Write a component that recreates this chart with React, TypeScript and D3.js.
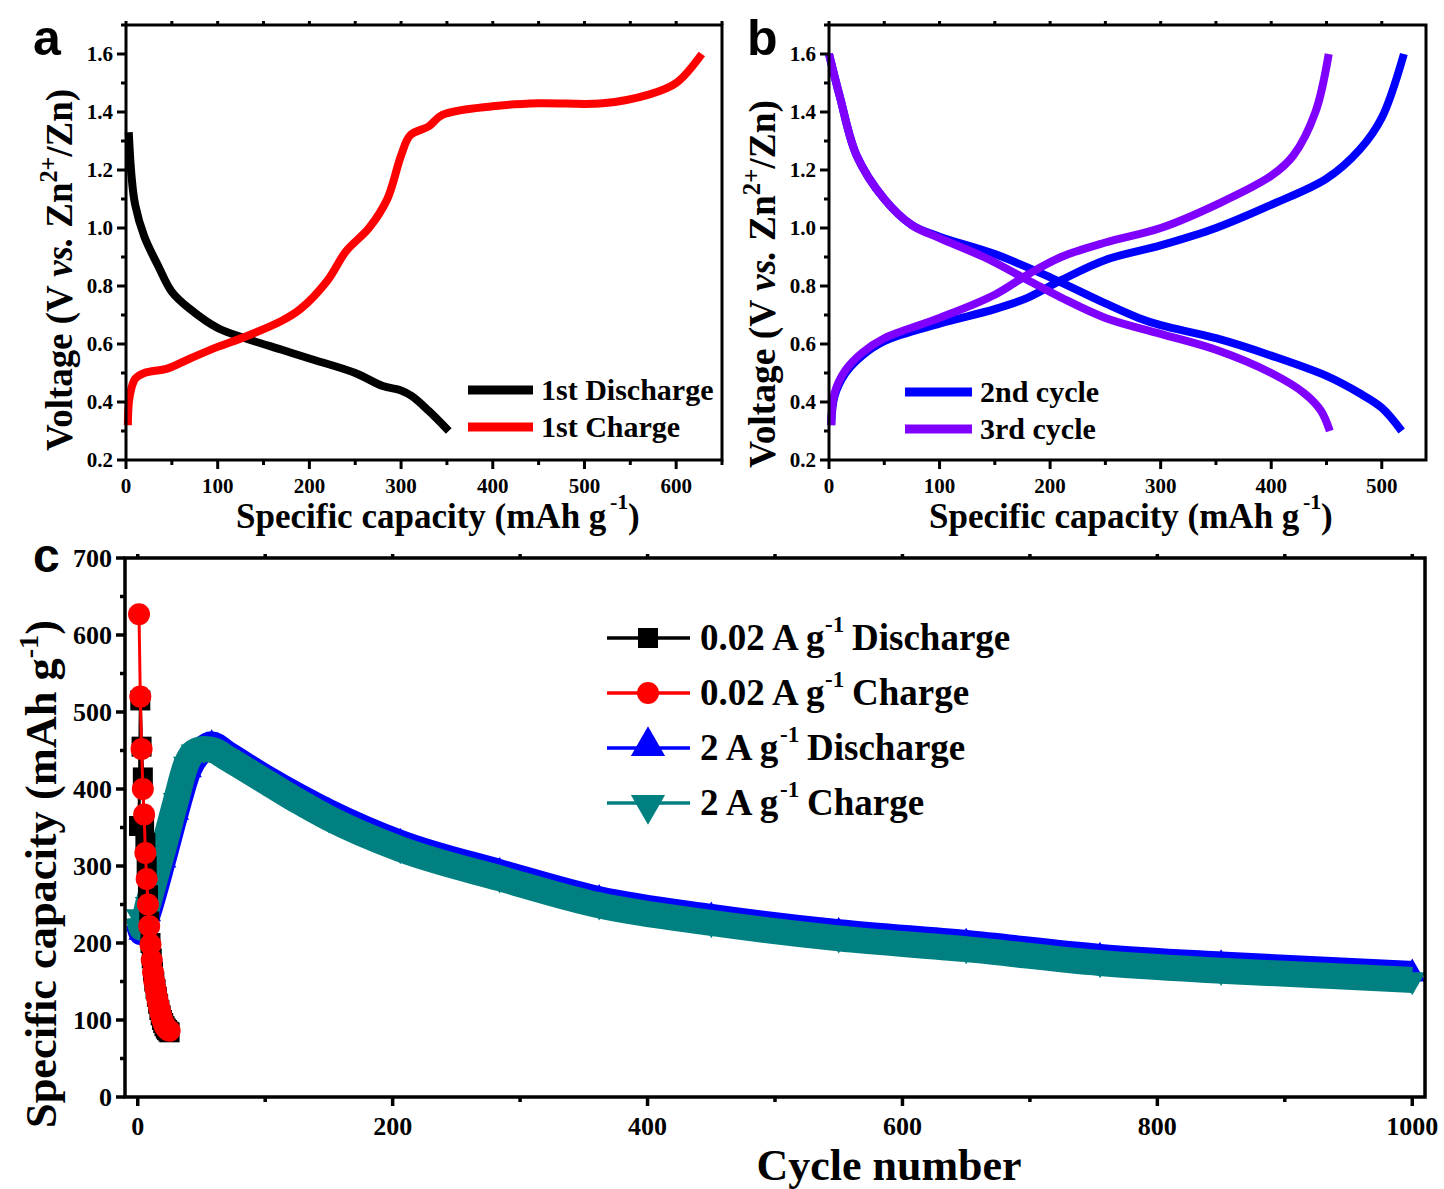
import React from "react";
import * as d3 from "d3";

// ---- panel a: first cycle ----
const aDisCap = [3, 6, 10, 20, 35, 50, 70, 100, 130, 170, 200, 250, 280, 300, 312, 330, 352];
const aDisV = [1.33, 1.18, 1.08, 0.97, 0.87, 0.78, 0.72, 0.655, 0.62, 0.58, 0.55, 0.5, 0.455, 0.44, 0.42, 0.37, 0.3];
const aChCap = [2, 4, 10, 20, 45, 70, 100, 130, 170, 190, 220, 240, 265, 285, 300, 310, 330, 345, 400, 450, 520, 570, 600, 628];
const aChV = [0.32, 0.42, 0.48, 0.5, 0.515, 0.55, 0.59, 0.625, 0.68, 0.72, 0.82, 0.92, 1.0, 1.1, 1.25, 1.32, 1.35, 1.39, 1.42, 1.43, 1.43, 1.46, 1.5, 1.6];

// ---- panel b: 2nd / 3rd cycle ----
const b2DisCap = [0, 10, 25, 50, 75, 100, 150, 200, 250, 280, 300, 350, 400, 450, 480, 500, 518];
const b2DisV = [1.6, 1.45, 1.25, 1.1, 1.01, 0.97, 0.91, 0.83, 0.74, 0.69, 0.665, 0.62, 0.56, 0.49, 0.43, 0.38, 0.3];
const b2ChCap = [2, 5, 15, 30, 50, 100, 150, 180, 210, 250, 300, 350, 400, 450, 480, 500, 520];
const b2ChV = [0.32, 0.42, 0.5, 0.56, 0.61, 0.67, 0.72, 0.76, 0.82, 0.89, 0.94, 1.0, 1.08, 1.17, 1.27, 1.38, 1.6];
const b3DisCap = [0, 10, 25, 50, 75, 100, 140, 180, 210, 250, 300, 350, 400, 430, 445, 453];
const b3DisV = [1.6, 1.45, 1.25, 1.1, 1.01, 0.965, 0.9, 0.82, 0.76, 0.69, 0.635, 0.58, 0.5, 0.43, 0.37, 0.3];
const b3ChCap = [2, 5, 15, 30, 50, 100, 150, 180, 210, 250, 300, 350, 400, 420, 440, 452];
const b3ChV = [0.32, 0.43, 0.51, 0.57, 0.62, 0.69, 0.77, 0.84, 0.9, 0.95, 1.0, 1.08, 1.18, 1.25, 1.4, 1.6];

// ---- panel c: cycling ----
const lowCycles = d3.range(1, 26);
const lowDis = [352, 515, 455, 415, 352, 330, 300, 262, 228, 200, 180, 163, 150, 140, 130, 121, 113, 106, 100, 96, 92, 89, 87, 85, 84];
const lowCh = [627, 520, 452, 400, 367, 317, 283, 250, 222, 198, 178, 162, 150, 140, 130, 122, 115, 108, 102, 97, 93, 90, 88, 87, 86];

const hiDisCycles = [1, 3, 8, 20, 30, 40, 50, 58, 70, 100, 150, 206, 284, 362, 450, 550, 650, 755, 850, 1000];
const hiDis = [225, 214, 238, 308, 370, 425, 450, 458, 446, 415, 370, 330, 292, 257, 234, 214, 200, 182, 172, 160];
const hiChCycles = [1, 3, 8, 20, 30, 38, 44, 52, 60, 70, 100, 127, 150, 206, 284, 362, 450, 550, 650, 755, 850, 1000];
const hiCh = [234, 220, 250, 322, 385, 432, 448, 452, 450, 440, 410, 383, 362, 322, 284, 249, 226, 206, 192, 174, 164, 152];

const serif = "Liberation Serif";
const sans = "Liberation Sans";

type Pt = [number, number];
const zip = (xs: number[], ys: number[]): Pt[] => xs.map((x, i) => [x, ys[i]]);

function Frame({ x, y, xTicks, xMinor, yTicks, yMinor, fmtY, fs, sw }: any) {
  const [x0, x1] = x.range();
  const [y0, y1] = y.range();
  return (
    <g fontFamily={serif} fontWeight="bold" fontSize={fs}>
      {xMinor.map((t: number) => (
        <g key={"xm" + t}>
          <line x1={x(t)} x2={x(t)} y1={y0} y2={y0 + 5} stroke="#000" strokeWidth={sw} />
          <line x1={x(t)} x2={x(t)} y1={y1} y2={y1 - 4} stroke="#000" strokeWidth={sw} />
        </g>
      ))}
      {xTicks.map((t: number) => (
        <g key={"x" + t}>
          <line x1={x(t)} x2={x(t)} y1={y0} y2={y0 + 9} stroke="#000" strokeWidth={sw} />
          <line x1={x(t)} x2={x(t)} y1={y1} y2={y1 - 4} stroke="#000" strokeWidth={sw} />
          <text x={x(t)} y={y0 + fs + 12} textAnchor="middle">{t}</text>
        </g>
      ))}
      {yMinor.map((t: number) => (
        <line key={"ym" + t} x1={x0} x2={x0 - 5} y1={y(t)} y2={y(t)} stroke="#000" strokeWidth={sw} />
      ))}
      {yTicks.map((t: number) => (
        <g key={"y" + t}>
          <line x1={x0} x2={x0 - 9} y1={y(t)} y2={y(t)} stroke="#000" strokeWidth={sw} />
          <text x={x0 - 13} y={y(t) + fs * 0.34} textAnchor="end">{fmtY(t)}</text>
        </g>
      ))}
      <rect x={x0} y={y1} width={x1 - x0} height={y0 - y1} fill="none" stroke="#000" strokeWidth={sw} />
    </g>
  );
}

const VoltTitle = ({ cx, cy, len }: { cx: number; cy: number; len: number }) => (
  <text transform={`translate(${cx},${cy}) rotate(-90)`} textAnchor="middle" fontFamily={serif}
    fontWeight="bold" fontSize={38} textLength={len} lengthAdjust="spacingAndGlyphs">
    <tspan>Voltage (V </tspan>
    <tspan fontStyle="italic">vs.</tspan>
    <tspan> Zn</tspan>
    <tspan dy={-15} fontSize={25}>2+</tspan>
    <tspan dy={15}>/Zn)</tspan>
  </text>
);

// x title split into pieces so the superscript sits clear of the main run
const CapTitle = ({ x0, y }: { x0: number; y: number }) => (
  <g fontFamily={serif} fontWeight="bold">
    <text x={x0} y={y} fontSize={35}>Specific capacity (mAh g</text>
    <text x={x0 + 374} y={y - 19} fontSize={22}>-1</text>
    <text x={x0 + 392} y={y} fontSize={35}>)</text>
  </g>
);

export default function App() {
  const vTicks = [0.2, 0.4, 0.6, 0.8, 1.0, 1.2, 1.4, 1.6];
  const vMinor = [0.3, 0.5, 0.7, 0.9, 1.1, 1.3, 1.5, 1.7];
  const fmtV = (v: number) => v.toFixed(1);

  // panel a
  const xa = d3.scaleLinear().domain([0, 650]).range([126, 722]);
  const ya = d3.scaleLinear().domain([0.2, 1.7]).range([460, 25]);
  const la = d3.line<Pt>().x((d) => xa(d[0])).y((d) => ya(d[1])).curve(d3.curveCatmullRom);

  // panel b
  const xb = d3.scaleLinear().domain([0, 540]).range([829, 1426]);
  const yb = ya;
  const lb = d3.line<Pt>().x((d) => xb(d[0])).y((d) => yb(d[1])).curve(d3.curveCatmullRom);

  // panel c
  const xc = d3.scaleLinear().domain([-10, 1010]).range([125, 1425]);
  const yc = d3.scaleLinear().domain([0, 700]).range([1097, 558]);
  const lc = d3.line<Pt>().x((d) => xc(d[0])).y((d) => yc(d[1]));
  const band = d3.line<Pt>().x((d) => xc(d[0])).y((d) => yc(d[1])).curve(d3.curveMonotoneX);
  const triUp = d3.symbol().type(d3.symbolTriangle).size(300)() as string;

  const legA = [
    { name: "1st Discharge", color: "#000" },
    { name: "1st Charge", color: "#ff0000" },
  ];
  const legB = [
    { name: "2nd cycle", color: "#0000ff" },
    { name: "3rd cycle", color: "#8000ff" },
  ];
  const legC = [
    { pre: "0.02 A g", post: "Discharge", color: "#000", m: "sq" },
    { pre: "0.02 A g", post: "Charge", color: "#ff0000", m: "ci" },
    { pre: "2 A g", post: "Discharge", color: "#0000ff", m: "up" },
    { pre: "2 A g", post: "Charge", color: "#008080", m: "dn" },
  ];

  const marker = (m: string, color: string, cx: number, cy: number, key: any, s = 1) => {
    if (m === "sq") return <rect key={key} x={cx - 10 * s} y={cy - 10 * s} width={20 * s} height={20 * s} fill={color} />;
    if (m === "ci") return <circle key={key} cx={cx} cy={cy} r={11 * s} fill={color} />;
    return (
      <path key={key} d={triUp} fill={color}
        transform={`translate(${cx},${cy}) scale(${s},${m === "dn" ? -s : s})`} />
    );
  };

  return (
    <svg width={1444} height={1189} style={{ position: "absolute", left: 0, top: 0, background: "#fff" }}>
      {/* ---------- a ---------- */}
      <text x={33} y={55} fontFamily={sans} fontWeight="bold" fontSize={50}>a</text>
      <path d={la(zip(aDisCap, aDisV)) as string} fill="none" stroke="#000" strokeWidth={8} />
      <path d={la(zip(aChCap, aChV)) as string} fill="none" stroke="#ff0000" strokeWidth={8} />
      <Frame x={xa} y={ya} xTicks={d3.range(0, 601, 100)} xMinor={d3.range(50, 651, 100)}
        yTicks={vTicks} yMinor={vMinor} fmtY={fmtV} fs={21} sw={3} />
      {legA.map((d, i) => (
        <g key={d.name}>
          <line x1={468} x2={533} y1={390 + i * 37} y2={390 + i * 37} stroke={d.color} strokeWidth={9} />
          <text x={541} y={400 + i * 37} fontFamily={serif} fontWeight="bold" fontSize={30}>{d.name}</text>
        </g>
      ))}
      <VoltTitle cx={72} cy={270} len={362} />
      <CapTitle x0={236} y={528} />

      {/* ---------- b ---------- */}
      <text x={747} y={55} fontFamily={sans} fontWeight="bold" fontSize={50}>b</text>
      <path d={lb(zip(b2DisCap, b2DisV)) as string} fill="none" stroke="#0000ff" strokeWidth={8} />
      <path d={lb(zip(b2ChCap, b2ChV)) as string} fill="none" stroke="#0000ff" strokeWidth={8} />
      <path d={lb(zip(b3DisCap, b3DisV)) as string} fill="none" stroke="#8000ff" strokeWidth={8} />
      <path d={lb(zip(b3ChCap, b3ChV)) as string} fill="none" stroke="#8000ff" strokeWidth={8} />
      <Frame x={xb} y={yb} xTicks={d3.range(0, 501, 100)} xMinor={d3.range(50, 540, 100)}
        yTicks={vTicks} yMinor={vMinor} fmtY={fmtV} fs={21} sw={3} />
      {legB.map((d, i) => (
        <g key={d.name}>
          <line x1={905} x2={972} y1={392 + i * 37} y2={392 + i * 37} stroke={d.color} strokeWidth={9} />
          <text x={980} y={402 + i * 37} fontFamily={serif} fontWeight="bold" fontSize={30}>{d.name}</text>
        </g>
      ))}
      <VoltTitle cx={775} cy={284} len={368} />
      <CapTitle x0={929} y={528} />

      {/* ---------- c ---------- */}
      <text x={33} y={572} fontFamily={sans} fontWeight="bold" fontSize={48}>c</text>
      {/* 2 A g-1 bands */}
      <path d={band(zip(hiDisCycles, hiDis)) as string} fill="none" stroke="#0000ff" strokeWidth={26} strokeLinejoin="round" />
      {hiDisCycles.map((c, i) => marker("up", "#0000ff", xc(c), yc(hiDis[i]), "bu" + i))}
      <path d={band(zip(hiChCycles, hiCh)) as string} fill="none" stroke="#008080" strokeWidth={26} strokeLinejoin="round" />
      {hiChCycles.map((c, i) => marker("dn", "#008080", xc(c), yc(hiCh[i]), "td" + i))}
      {/* 0.02 A g-1 */}
      <path d={lc(zip(lowCycles, lowDis)) as string} fill="none" stroke="#000" strokeWidth={3} />
      {lowCycles.map((c, i) => marker("sq", "#000", xc(c), yc(lowDis[i]), "bs" + i))}
      <path d={lc(zip(lowCycles, lowCh)) as string} fill="none" stroke="#ff0000" strokeWidth={3} />
      {lowCycles.map((c, i) => marker("ci", "#ff0000", xc(c), yc(lowCh[i]), "rc" + i))}
      <Frame x={xc} y={yc} xTicks={d3.range(0, 1001, 200)} xMinor={d3.range(100, 1001, 200)}
        yTicks={d3.range(0, 701, 100)} yMinor={d3.range(50, 701, 100)} fmtY={(v: number) => String(v)}
        fs={26} sw={3.5} />
      {legC.map((d, i) => {
        const yy = 638 + i * 55;
        const preW = d.pre.length > 5 ? 122 : 77;
        return (
          <g key={i} fontFamily={serif} fontWeight="bold">
            <line x1={607} x2={690} y1={yy} y2={yy} stroke={d.color} strokeWidth={3.5} />
            {marker(d.m, d.color, 648, yy + (d.m === "dn" ? 2 : d.m === "up" ? -2 : 0), "lm" + i, d.m === "sq" || d.m === "ci" ? 1 : 1.3)}
            <text x={700} y={yy + 12} fontSize={37}>{d.pre}</text>
            <text x={700 + preW + 3} y={yy - 6} fontSize={23}>-1</text>
            <text x={700 + preW + 30} y={yy + 12} fontSize={37}>{d.post}</text>
          </g>
        );
      })}
      <text transform="translate(56,874) rotate(-90)" textAnchor="middle" fontFamily={serif} fontWeight="bold"
        fontSize={44} textLength={508} lengthAdjust="spacingAndGlyphs">
        <tspan>Specific capacity (mAh g</tspan>
        <tspan dy={-18} fontSize={28}>-1</tspan>
        <tspan dy={18}>)</tspan>
      </text>
      <text x={889} y={1180} textAnchor="middle" fontFamily={serif} fontWeight="bold" fontSize={44}>Cycle number</text>
    </svg>
  );
}
